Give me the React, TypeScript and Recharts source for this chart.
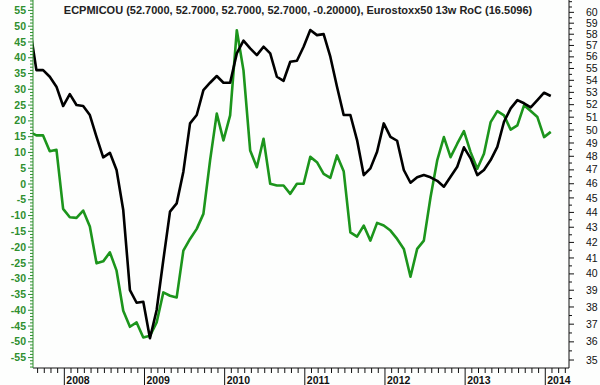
import React from 'react';
import { LineChart, Line, XAxis, YAxis } from 'recharts';

// Month-end observations, Jul 2007 .. Jan 2014
const firstMonth = 6; // months after Jan 2007 (Jul 2007)
const monthEndOffset = 0.82;

const pmi = [
  58.7, 54.86, 54.86, 54.3, 53.47, 51.89, 52.86, 51.97, 51.89, 51.17,
  49.47, 47.92, 48.26, 46.99, 44.16, 39.01, 38.25, 38.31, 36.2, 37.82,
  40.87, 44.05, 44.62, 46.87, 50.51, 51.17, 53.19, 53.8, 54.36, 53.8,
  53.8, 56.3, 57.42, 56.74, 56.15, 56.89, 56.3, 54.3, 53.96, 55.58,
  55.66, 56.89, 58.38, 57.92, 58.01, 56.01, 53.47, 51.17, 51.17, 49.22,
  46.62, 47.11, 48.34, 50.51, 49.47, 49.17, 46.99, 46.07, 46.46, 46.62,
  46.46, 46.21, 45.79, 46.5, 47.23, 48.67, 47.85, 46.62, 46.99, 47.72,
  48.71, 50.64, 51.7, 52.37, 52.11, 51.78, 52.37, 52.97, 52.7,
];

const roc = [
  16.5, 15.4, 15.4, 10.4, 10.86, -7.87, -10.54, -10.73, -8.41, -13.49,
  -25.14, -24.51, -21.65, -27.46, -40.16, -45.24, -43.87, -48.63, -48.1, -43.87,
  -34.35, -35.4, -35.94, -21.11, -17.4, -14.22, -9.46, 7.46, 22.29, 13.81,
  21.75, 48.73, 36.0, 10.63, 5.33, 14.35, 0.06, -0.48, -0.48, -3.11,
  0.06, 0.06, 8.6, 6.92, 3.24, 1.97, 9.05, 4.06, -15.3, -16.67,
  -13.17, -17.94, -12.32, -13.17, -14.76, -17.4, -20.57, -29.37, -20.57, -17.94,
  -4.19, 7.46, 14.86, 8.51, 12.76, 16.76, 10.1, 4.83, 9.59, 19.62,
  23.11, 21.75, 17.21, 18.57, 24.92, 23.11, 21.21, 14.86, 16.51,
];

const yearLabels = ['2008', '2009', '2010', '2011', '2012', '2013', '2014'];
const rightLabels = [35, 36, 37, 38, 39, 40, 41, 42, 43, 44, 45, 46, 47, 48, 49, 50, 51, 52, 53, 54, 55, 56, 57, 58, 59, 60];
const leftLabels = [-55, -50, -45, -40, -35, -30, -25, -20, -15, -10, -5, 0, 5, 10, 15, 20, 25, 30, 35, 40, 45, 50, 55];

const title =
  'ECPMICOU (52.7000, 52.7000, 52.7000, 52.7000, -0.20000), Eurostoxx50 13w RoC (16.5096)';

const data = pmi.map((v, i) => ({ t: firstMonth + i + monthEndOffset, pmi: v, roc: roc[i] }));

const xDomain: [number, number] = [7.31, 87.55];
const leftDomain: [number, number] = [-58.3, 58.3];
const rightDomain: [number, number] = [34.57, 61.16];

const xTicks: number[] = [];
for (let m = 8; m <= 87; m++) xTicks.push(m);
const yearTickValues = yearLabels.map((_, i) => 12 * (i + 1));

const leftTicks: number[] = [];
for (let v = -58; v <= 58; v++) leftTicks.push(v);

const rightTicks: number[] = [];
rightLabels.forEach((v) => {
  rightTicks.push(v);
  if (v < 60) rightTicks.push(v + 0.5);
});
rightTicks.push(60.5, 61);

const GREEN = '#1c951c';
const LABEL_GREEN = '#2f8f2f';

const LeftTick = (props: any) => {
  const { x, y, payload } = props;
  const v = payload.value as number;
  const major = leftLabels.includes(v);
  return (
    <g>
      <line x1={x - (major ? 5 : 3)} x2={x} y1={y} y2={y} stroke={LABEL_GREEN} strokeWidth={1} />
      {major && (
        <text x={x - 7} y={y} dy={3.6} textAnchor="end" fontSize={10.5} fontWeight="bold"
          fontFamily="Liberation Sans, Arial, sans-serif" fill={LABEL_GREEN}>
          {v}
        </text>
      )}
    </g>
  );
};

const RightTick = (props: any) => {
  const { x, y, payload } = props;
  const v = payload.value as number;
  const major = rightLabels.includes(v);
  return (
    <g>
      <line x1={x} x2={x + (major ? 5 : 3)} y1={y} y2={y} stroke="#111" strokeWidth={1} />
      {major && (
        <text x={x + 17} y={y} dy={3.6} textAnchor="start" fontSize={10.5}
          fontFamily="Liberation Sans Narrow, Arial Narrow, Arial, sans-serif" fill="#111">
          {v}
        </text>
      )}
    </g>
  );
};

const BottomTick = (props: any) => {
  const { x, y, payload } = props;
  const v = payload.value as number;
  const yi = yearTickValues.indexOf(v);
  const isYear = yi >= 0;
  return (
    <g>
      <line x1={x} x2={x} y1={y} y2={y + (isYear ? 17 : 5)} stroke="#111" strokeWidth={1} />
      {isYear && (
        <text x={x + 2} y={y + 16} textAnchor="start" fontSize={10.5} fontWeight="bold"
          fontFamily="Liberation Sans, Arial, sans-serif" fill="#111">
          {yearLabels[yi]}
        </text>
      )}
    </g>
  );
};

export default function App() {
  return (
    <div style={{ position: 'absolute', left: 0, top: 0, width: 600, height: 385, background: '#fdfefd' }}>
      <LineChart width={600} height={385} data={data} margin={{ top: 0, right: 0, bottom: 0, left: 0 }}>
        <XAxis dataKey="t" type="number" domain={xDomain} allowDataOverflow ticks={xTicks}
          interval={0} height={17} tickSize={0} tickMargin={0} tick={<BottomTick />}
          axisLine={{ stroke: '#111', strokeWidth: 1 }} />
        <YAxis yAxisId="left" orientation="left" type="number" domain={leftDomain} allowDataOverflow
          ticks={leftTicks} interval={0} width={33} tickSize={0} tickMargin={0} tick={<LeftTick />}
          axisLine={{ stroke: LABEL_GREEN, strokeWidth: 1 }} />
        <YAxis yAxisId="right" orientation="right" type="number" scale="log" domain={rightDomain}
          allowDataOverflow ticks={rightTicks} interval={0} width={31} tickSize={0} tickMargin={0}
          tick={<RightTick />} axisLine={{ stroke: '#111', strokeWidth: 1 }} />
        <Line yAxisId="left" dataKey="roc" stroke={GREEN} strokeWidth={2.6} dot={false}
          isAnimationActive={false} strokeLinejoin="round" />
        <Line yAxisId="right" dataKey="pmi" stroke="#000" strokeWidth={2.6} dot={false}
          isAnimationActive={false} strokeLinejoin="round" />
      </LineChart>
      <div style={{ position: 'absolute', left: 0, top: 4, width: 596, textAlign: 'center',
        fontFamily: 'Liberation Sans, Arial, sans-serif', fontSize: 11, fontWeight: 'bold', color: '#222',
        lineHeight: '13px', whiteSpace: 'nowrap' }}>
        {title}
      </div>
    </div>
  );
}
